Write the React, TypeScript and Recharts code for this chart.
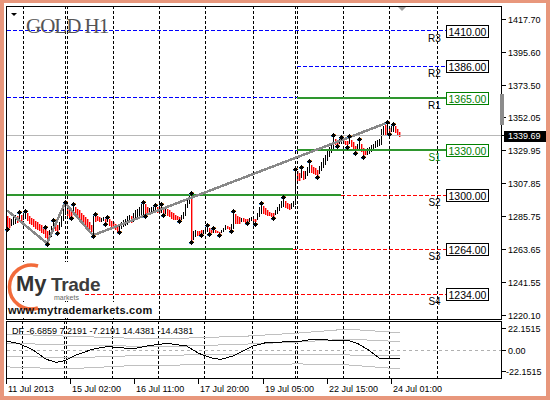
import React from 'react';
import { ComposedChart, Bar, Line, XAxis, YAxis, ReferenceLine, ReferenceDot } from 'recharts';

const FONT = '"Liberation Sans", Arial, sans-serif';
const SLOT_COUNT = 248;

const HIGH = [
  1286, 1285, 1284, 1285.5, 1287, 1286.5, 1288, 1287, 1288, 1289,
  1288, 1286.5, 1285, 1284, 1283, 1282, 1281, 1280.5, 1279, 1278.5,
  1276.5, 1277, 1279.5, 1283, 1281.5, 1280, 1282, 1286.5, 1291, 1295,
  1293, 1291, 1290, 1293.5, 1292, 1291, 1290, 1288, 1287, 1285.5,
  1284, 1282, 1280, 1286, 1287, 1286, 1285.5, 1285, 1285.5, 1284.5,
  1285, 1284, 1283, 1282, 1281, 1280.5, 1281, 1282, 1283.5, 1284,
  1286, 1287, 1286, 1288, 1290, 1291, 1292, 1294.5, 1295.2, 1294,
  1292, 1291.5, 1292.5, 1293, 1293, 1292.5, 1292, 1293.8, 1292, 1291.5,
  1291, 1290, 1289, 1288, 1287, 1286, 1285.5, 1287, 1289, 1294,
  1298, 1299.5, 1300.7, 1276, 1277, 1276.5, 1276, 1277, 1277, 1278.5,
  1279.5, 1278, 1277.5, 1277.8, 1277, 1276, 1275.8, 1277, 1278.5, 1280,
  1279.5, 1279, 1281, 1288.9, 1287.5, 1286, 1285.5, 1285, 1285, 1284.5,
  1284, 1285, 1285.5, 1284.5, 1284, 1288, 1292, 1294.5, 1293, 1291.5,
  1290, 1289, 1288.5, 1288, 1290, 1292, 1294, 1296, 1298, 1296.5,
  1295, 1294.5, 1295, 1296, 1316.8, 1316, 1315, 1317.9, 1316, 1316.5,
  1319, 1322.3, 1320.5, 1319, 1318, 1317, 1319.5, 1322, 1325, 1327,
  1329.5, 1332, 1335, 1339.5, 1337.5, 1337, 1338, 1338.3, 1337, 1336.5,
  1336, 1338.6, 1337, 1335.5, 1333, 1334, 1336.8, 1334, 1331.5, 1330,
  1331.5, 1332.5, 1333.5, 1334.5, 1336, 1337, 1337.5, 1344, 1346, 1347,
  1348.4, 1345, 1346, 1346.9, 1346, 1344, 1342.5,
];

const LOW = [
  1278, 1278.5, 1279, 1280, 1281, 1282, 1282.5, 1283, 1283.5, 1284,
  1282.5, 1281, 1280, 1278.5, 1277.5, 1276.5, 1276, 1275, 1274, 1272,
  1268, 1269.5, 1272, 1276, 1276, 1275.5, 1276.5, 1279, 1283, 1287,
  1286, 1285, 1285.5, 1287, 1286.5, 1285, 1283.5, 1282, 1281, 1279.5,
  1278, 1276.5, 1275, 1273.3, 1282.5, 1282.5, 1282, 1282, 1282.5, 1281.3,
  1282, 1279.5, 1278.5, 1277.5, 1277, 1276, 1276, 1277, 1278.5, 1279,
  1280, 1281.5, 1281, 1282, 1283.5, 1284.5, 1285, 1286.5, 1287.5, 1286.7,
  1287, 1287.5, 1288, 1289, 1289, 1288.5, 1288, 1288.5, 1287.4, 1287.5,
  1286, 1285, 1284, 1283.5, 1283.5, 1283.5, 1283.3, 1283.5, 1284.5, 1286,
  1291, 1294, 1269.5, 1270, 1272, 1273, 1273.5, 1274.5, 1274.5, 1275,
  1275.5, 1274.9, 1275, 1275, 1274.8, 1274.6, 1274.5, 1274.8, 1275.5, 1276.5,
  1277.2, 1277.2, 1277.1, 1277.8, 1281, 1280.5, 1281, 1282.5, 1282, 1282,
  1282, 1282.5, 1283, 1282.5, 1281.8, 1283, 1285, 1288, 1287.5, 1286.5,
  1286, 1286, 1286, 1285.6, 1286.5, 1287.5, 1289, 1291, 1292, 1292,
  1291, 1290.5, 1291, 1292, 1293.4, 1309, 1309.5, 1311, 1310, 1311,
  1313, 1315, 1315, 1314, 1313.5, 1312.8, 1314, 1316, 1318, 1320.5,
  1322.5, 1325, 1328, 1330.5, 1333.8, 1333.5, 1334, 1334.5, 1334, 1333.5,
  1333, 1334, 1332, 1330, 1328.6, 1329.5, 1330, 1328.5, 1326.3, 1326.5,
  1327, 1328, 1329, 1330, 1331, 1332, 1333, 1333.5, 1339, 1340.5,
  1341, 1341.3, 1342, 1342.5, 1341.5, 1340, 1339,
];

const DIR =
  'dduuududuu' + 'dddddddddd' + 'duuudduuuu' + 'dddudddddd' + 'ddduddduud' +
  'uddddduuuu' + 'uuduuuuuud' + 'duuuuddudu' + 'ddddddduuu' + 'uuduuddduu' +
  'udduddduuu' + 'dduudddudd' + 'duudduuudd' + 'dddduuuuud' + 'dduuuddudu' +
  'uudddduuuu' + 'uuuudduudd' + 'duddduuddd' + 'uuuuuuuuud' + 'uduuddd';

const FRAC_UP_IDX = [6, 9, 19, 23, 29, 33, 44, 50, 68, 74, 77, 92, 100, 103, 113, 127, 138, 144, 147, 151, 163, 167, 171, 176, 190, 193];
const FRAC_UP_VAL = [1288, 1289, 1278.5, 1283, 1295, 1293.5, 1287, 1285, 1295.2, 1293, 1293.8, 1300.7, 1279.5, 1277.8, 1288.9, 1294.5, 1298, 1316.8, 1317.9, 1322.3, 1339.5, 1338.3, 1338.6, 1336.8, 1348.4, 1346.9];
const FRAC_DN_IDX = [0, 20, 25, 32, 43, 49, 56, 69, 78, 86, 92, 97, 101, 106, 112, 120, 124, 133, 155, 165, 170, 174, 178, 191];
const FRAC_DN_VAL = [1278, 1268, 1275.5, 1285.5, 1273.3, 1281.3, 1276, 1286.7, 1287.4, 1283.3, 1269.5, 1274.5, 1274.9, 1274.5, 1277.1, 1282, 1281.8, 1285.6, 1312.8, 1333.5, 1333, 1328.6, 1326.3, 1341.3];

const ZIGZAG_IDX = [0, 20, 29, 43, 190];
const ZIGZAG_VAL = [1290, 1268, 1295, 1273.3, 1348.4];

const TIME_TICK_IDX = [0, 32, 64, 96, 128, 160, 192];
const TIME_TICK_LABELS = ['11 Jul 2013', '15 Jul 02:00', '16 Jul 11:00', '17 Jul 20:00', '19 Jul 05:00', '22 Jul 15:00', '24 Jul 01:00'];
const GRID_IDX = [8, 29, 30, 53, 76, 99, 123, 144, 145, 168, 191, 215];

const PRICE_TICKS = [1417.7, 1395.6, 1373.5, 1352.05, 1329.95, 1307.85, 1285.75, 1263.65, 1241.55, 1220.1];
const LAST_PRICE = 1339.69;

const LEVEL_NAMES = ['R3', 'R2', 'R1', 'S1', 'S2', 'S3', 'S4'];
const LEVEL_VALUES = [1410, 1386, 1365, 1330, 1300, 1264, 1234];
const LEVEL_COLORS = ['#000000', '#000000', '#008000', '#008000', '#000000', '#000000', '#000000'];
const LEVEL_BOX_IDX = 220;

const SEG_VALUE = [1410, 1365, 1330, 1300, 1264, 1234, 1386, 1365, 1330, 1300, 1264];
const SEG_FROM = [0, 0, 0, 0, 0, 0, 145, 145, 145, 167, 143];
const SEG_TO = [220, 145, 145, 167, 143, 220, 220, 220, 220, 220, 220];
const SEG_KIND = ['blue', 'blue', 'blue', 'green', 'green', 'red', 'blue', 'green', 'green', 'red', 'red'];

const DF_IDX = [0, 6, 13, 20, 25, 29, 35, 43, 50, 56, 63, 70, 80, 90, 96, 103, 107, 113, 123, 130, 145, 153, 161, 170, 175, 180, 186, 196];
const DF_VAL = [9, 6.7, 0.7, -9.4, -12.4, -10.8, -5, 0.7, 3.3, 2.7, 1, 4, 6.7, 4, -3.4, -8.4, -9.4, -6, 4, 7.7, 8.4, 10.8, 10, 10, 6.7, 0.7, -8.4, -8.4];
const BAND_IDX = [0, 30, 60, 90, 120, 145, 170, 196];
const BAND_UP2 = [16, 14, 12, 12, 14, 17, 21, 17.5];
const BAND_UP1 = [7, 5, 4, 4, 6, 8, 11, 8.5];
const BAND_DN1 = [-6, -8, -6, -5, -5, -5, -5, -6];
const BAND_DN2 = [-17, -19, -16, -15, -15, -14, -15, -19];
const DF_TICKS = [22.1515, 0, -22.1515];
const DF_LEGEND = 'DF -6.6859 7.2191 -7.2191 14.4381 -14.4381';

const pick = (idx: number[], val: number[], i: number) => {
  const k = idx.indexOf(i);
  return k >= 0 ? val[k] : null;
};

const mainData = Array.from({ length: SLOT_COUNT }, (_, i) => {
  const has = i < HIGH.length;
  return {
    i,
    rng: has ? [LOW[i], HIGH[i]] : null,
    zz: pick(ZIGZAG_IDX, ZIGZAG_VAL, i),
    fu: pick(FRAC_UP_IDX, FRAC_UP_VAL, i),
    fd: pick(FRAC_DN_IDX, FRAC_DN_VAL, i),
  };
});

const dfData = Array.from({ length: SLOT_COUNT }, (_, i) => ({
  i,
  df: pick(DF_IDX, DF_VAL, i),
  u2: pick(BAND_IDX, BAND_UP2, i),
  u1: pick(BAND_IDX, BAND_UP1, i),
  d1: pick(BAND_IDX, BAND_DN1, i),
  d2: pick(BAND_IDX, BAND_DN2, i),
}));

const OhlcShape = (props: any) => {
  const { x, y, width, height, payload, index } = props;
  if (y == null || isNaN(y) || !height) return <g />;
  const i = payload && typeof payload.i === 'number' ? payload.i : index;
  const up = DIR.charAt(i) === 'u';
  const cx = Math.floor(x + width / 2);
  const top = Math.round(y);
  const h = Math.max(1, Math.round(height));
  if (up) return <rect x={cx} y={top} width={1} height={h} style={{ fill: '#000000' }} />;
  return (
    <g>
      <rect x={cx + 1} y={top} width={1} height={h} style={{ fill: '#ff9a9a' }} />
      <rect x={cx} y={top} width={1} height={h} style={{ fill: '#ff0000' }} />
    </g>
  );
};

const FracDot = (props: any) => {
  const { cx, cy, value, up } = props;
  if (value == null || cy == null || isNaN(cy)) return <g key={props.key} />;
  const x = Math.floor(cx);
  const y = Math.round(up ? cy - 1 : cy + 1);
  return (
    <g key={props.key}>
      <rect x={x - 2} y={y} width={1} height={2} fill="#4aa8ff" />
      <rect x={x + 2} y={y - 1} width={1} height={2} fill="#ffa040" />
      <rect x={x} y={y - 2} width={1} height={5} fill="#000" />
      <rect x={x - 1} y={y - 1} width={3} height={3} fill="#000" />
      <rect x={x - 2} y={y} width={5} height={1} fill="#000" />
    </g>
  );
};

const PriceTick = (props: any) => {
  const { x, y, payload } = props;
  const v = payload.value as number;
  const label = v.toFixed(2);
  if (Math.abs(v - LAST_PRICE) < 1e-6) {
    return (
      <g>
        <rect x={x - 4} y={y - 5} width={42} height={11} fill="#000" />
        <text x={x} y={y + 3.5} fill="#fff" fontSize={9} fontFamily={FONT}>{label}</text>
      </g>
    );
  }
  return <text x={x} y={y + 3.5} fill="#000" fontSize={9} fontFamily={FONT}>{label}</text>;
};

const DfTick = (props: any) => {
  const { x, y, payload } = props;
  const v = payload.value as number;
  const label = v === 0 ? '0.00' : v.toFixed(4);
  return <text x={v < 0 ? x - 2 : x} y={y + 3.5} fill="#000" fontSize={9} fontFamily={FONT}>{label}</text>;
};

const TimeTick = (props: any) => {
  const { x, y, payload } = props;
  const k = TIME_TICK_IDX.indexOf(payload.value);
  const px = Math.floor(x) + 0.5;
  return (
    <g>
      <line x1={px} y1={y} x2={px} y2={y + 5} stroke="#000" />
      <text x={px + 1.5} y={y + 13} fill="#000" fontSize={9} fontFamily={FONT}>{k >= 0 ? TIME_TICK_LABELS[k] : ''}</text>
    </g>
  );
};

const LevelBox = (props: any) => {
  const { cx, cy, name, value, color } = props;
  const x0 = Math.floor(cx) - 0.5;
  const yc = Math.round(cy);
  return (
    <g>
      <rect x={x0} y={yc - 5.5} width={42} height={12} fill="#fff" stroke={color} />
      <text x={x0 + 2} y={yc + 4.5} fill={color} fontSize={10.5} fontFamily={FONT}>{value.toFixed(2)}</text>
      <text x={x0 - 12} y={yc + 11} fill={name === 'S1' ? '#008000' : '#000'} fontSize={10} fontFamily={FONT} textAnchor="middle">{name}</text>
    </g>
  );
};

const segStroke = (k: string) => (k === 'blue' ? '#0000ff' : k === 'green' ? '#2e962e' : '#ff0000');

export default function App() {
  return (
    <div style={{ position: 'absolute', left: 0, top: 0, width: 550, height: 400, background: '#ffffff', overflow: 'hidden' }}>
      <div style={{ position: 'absolute', left: 0, top: 0, shapeRendering: 'crispEdges' } as any}>
        <ComposedChart
          width={550}
          height={320}
          data={mainData}
          margin={{ top: 6, right: 0, bottom: 1, left: 6 }}
          barCategoryGap={0}
          barGap={0}
        >
          <XAxis dataKey="i" type="category" hide />
          <YAxis
            orientation="right"
            width={48}
            domain={[1217.43, 1426.38]}
            allowDataOverflow
            ticks={[...PRICE_TICKS, LAST_PRICE]}
            interval={0}
            tick={<PriceTick />}
            tickSize={4}
            tickMargin={2}
            tickLine={{ stroke: '#000' }}
            axisLine={false}
          />
          {GRID_IDX.map((g) => (
            <ReferenceLine key={'g' + g} x={g} stroke="#000" strokeDasharray="3 2" />
          ))}
          <ReferenceLine y={LAST_PRICE} stroke="#b8b8b8" />
          {SEG_VALUE.map((v, k) => (
            <ReferenceLine
              key={'s' + k}
              segment={[{ x: SEG_FROM[k], y: v }, { x: SEG_TO[k], y: v }]}
              stroke={segStroke(SEG_KIND[k])}
              strokeWidth={SEG_KIND[k] === 'green' ? 2 : 1}
              strokeDasharray={SEG_KIND[k] === 'green' ? undefined : '4 2'}
              ifOverflow="visible"
            />
          ))}
          <Bar dataKey="rng" shape={<OhlcShape />} isAnimationActive={false} />
          <Line dataKey="zz" stroke="#888888" strokeWidth={2.5} dot={false} activeDot={false} connectNulls isAnimationActive={false} />
          <Line dataKey="fu" stroke="none" dot={(p: any) => <FracDot {...p} up key={'u' + p.index} />} activeDot={false} isAnimationActive={false} />
          <Line dataKey="fd" stroke="none" dot={(p: any) => <FracDot {...p} up={false} key={'d' + p.index} />} activeDot={false} isAnimationActive={false} />
          {LEVEL_VALUES.map((v, k) => (
            <ReferenceDot
              key={'lv' + k}
              x={LEVEL_BOX_IDX}
              y={v}
              r={0}
              ifOverflow="visible"
              shape={(p: any) => <LevelBox {...p} name={LEVEL_NAMES[k]} value={v} color={LEVEL_COLORS[k]} />}
            />
          ))}
        </ComposedChart>
      </div>

      <div style={{ position: 'absolute', left: 0, top: 320, shapeRendering: 'crispEdges' } as any}>
        <ComposedChart width={550} height={78} data={dfData} margin={{ top: 1, right: 0, bottom: 0, left: 6 }}>
          <XAxis
            dataKey="i"
            type="category"
            ticks={TIME_TICK_IDX}
            interval={0}
            height={19}
            tickSize={0}
            tickMargin={0}
            tick={<TimeTick />}
            axisLine={false}
            tickLine={false}
          />
          <YAxis
            orientation="right"
            width={48}
            domain={[-29.2, 29.2]}
            allowDataOverflow
            ticks={DF_TICKS}
            interval={0}
            tick={<DfTick />}
            tickSize={4}
            tickMargin={2}
            tickLine={{ stroke: '#000' }}
            axisLine={false}
          />
          {GRID_IDX.map((g) => (
            <ReferenceLine key={'g' + g} x={g} stroke="#000" strokeDasharray="3 2" />
          ))}
          <ReferenceLine y={0} stroke="#b0b0b0" strokeDasharray="3 3" />
          <Line dataKey="u2" stroke="#c0c0c0" dot={false} activeDot={false} connectNulls isAnimationActive={false} />
          <Line dataKey="u1" stroke="#c0c0c0" dot={false} activeDot={false} connectNulls isAnimationActive={false} />
          <Line dataKey="d1" stroke="#c0c0c0" dot={false} activeDot={false} connectNulls isAnimationActive={false} />
          <Line dataKey="d2" stroke="#c0c0c0" dot={false} activeDot={false} connectNulls isAnimationActive={false} />
          <Line dataKey="df" stroke="#000000" dot={false} activeDot={false} connectNulls isAnimationActive={false} />
        </ComposedChart>
      </div>

      <svg width={550} height={400} style={{ position: 'absolute', left: 0, top: 0, pointerEvents: 'none' }}>
        <g shapeRendering="crispEdges">
          <rect x={6.5} y={6.5} width={495} height={313} fill="none" stroke="#000" />
          <rect x={6.5} y={321.5} width={495} height={57} fill="none" stroke="#000" />
          <rect x={500} y={94} width={4} height={31} fill="#8c8c8c" />
          <rect x={7} y={262} width={76} height={39} fill="#fff" />
          <rect x={7} y={302} width={149} height={16} fill="#fff" />
        </g>
        <polygon points="11,13 17,13 14,16" fill="#000" />
        <polygon points="398,7 406,7 402,11" fill="#a0a0a0" />
        <text x={26} y={33} fontFamily='"Liberation Serif", "Times New Roman", serif' fontSize={21} letterSpacing={-1} fill="#555">GOLD H1</text>
        <path d="M38,266 A22,22 0 1 0 38,308" fill="none" stroke="#f26b3a" strokeWidth={3.5} />
        <text x={16} y={291} fontFamily={FONT} fontWeight="bold" fontSize={22} fill="#333">My</text>
        <text x={51} y={291} fontFamily={FONT} fontWeight="bold" fontSize={19} letterSpacing={-0.3} fill="#3c3c3c">Trade</text>
        <text x={54} y={300} fontFamily={FONT} fontSize={7} fill="#666">markets</text>
        <text x={8} y={314} fontFamily={FONT} fontWeight="bold" fontSize={11} letterSpacing={0.25} fill="#111">www.mytrademarkets.com</text>
        <text x={12} y={334} fontFamily={FONT} fontSize={9} fill="#000">{DF_LEGEND}</text>
      </svg>
      <div style={{ position: 'absolute', left: 0, top: 0, width: 550, height: 400, boxSizing: 'border-box', border: '4px solid #e8977c', borderTopWidth: 3, pointerEvents: 'none' }} />
    </div>
  );
}
